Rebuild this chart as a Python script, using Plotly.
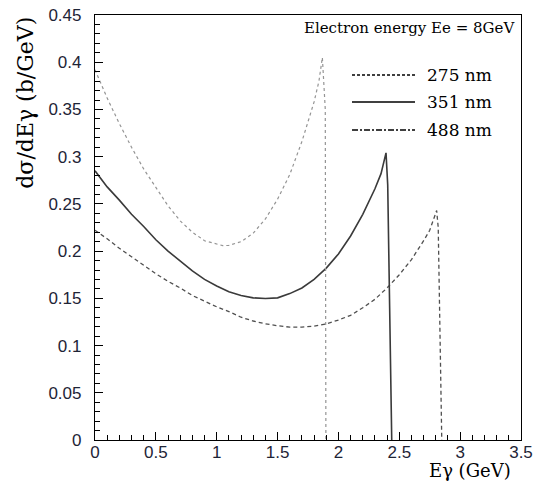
import plotly.graph_objects as go

# ---- data ----
wavelengths = ["275 nm", "351 nm", "488 nm"]

e_275 = [0.0, 0.1, 0.2, 0.3, 0.4, 0.5, 0.6, 0.7, 0.8, 0.9, 1.0, 1.1, 1.2, 1.3, 1.4, 1.5,
         1.6, 1.7, 1.8, 1.9, 2.0, 2.1, 2.2, 2.3, 2.4, 2.5, 2.6, 2.7, 2.75, 2.807, 2.82, 2.849]
s_275 = [0.222, 0.213, 0.203, 0.194, 0.185, 0.176, 0.168, 0.161, 0.153, 0.147, 0.141, 0.136,
         0.130, 0.126, 0.123, 0.121, 0.1195, 0.1195, 0.1205, 0.123, 0.127, 0.132, 0.140, 0.149,
         0.161, 0.175, 0.191, 0.211, 0.222, 0.243, 0.225, 0.0]

e_351 = [0.0, 0.1, 0.2, 0.3, 0.4, 0.5, 0.6, 0.7, 0.8, 0.9, 1.0, 1.1, 1.2, 1.3, 1.4, 1.5,
         1.6, 1.7, 1.8, 1.9, 2.0, 2.1, 2.2, 2.3, 2.35, 2.391, 2.405, 2.438]
s_351 = [0.285, 0.268, 0.254, 0.239, 0.226, 0.212, 0.200, 0.189, 0.179, 0.170, 0.163, 0.157,
         0.153, 0.1505, 0.1498, 0.1505, 0.155, 0.161, 0.170, 0.182, 0.197, 0.216, 0.239,
         0.266, 0.282, 0.304, 0.27, 0.0]

e_488 = [0.0, 0.1, 0.2, 0.3, 0.4, 0.5, 0.6, 0.7, 0.8, 0.9, 1.0, 1.05, 1.1, 1.2, 1.3, 1.4,
         1.5, 1.6, 1.7, 1.8, 1.84, 1.868, 1.892, 1.897]
s_488 = [0.392, 0.362, 0.335, 0.310, 0.287, 0.267, 0.248, 0.232, 0.220, 0.211, 0.207, 0.2058,
         0.206, 0.210, 0.219, 0.234, 0.255, 0.281, 0.316, 0.358, 0.380, 0.405, 0.35, 0.0]

x_ticks = [0, 0.5, 1, 1.5, 2, 2.5, 3, 3.5]
y_ticks = [0, 0.05, 0.1, 0.15, 0.2, 0.25, 0.3, 0.35, 0.4, 0.45]

SERIF = "DejaVu Serif"
SANS = "Liberation Sans, Arial"

fig = go.Figure()
fig.add_trace(go.Scatter(x=e_275, y=s_275, mode="lines", name=wavelengths[0],
                         line=dict(color="#505050", width=1.3, dash="4px,3px")))
fig.add_trace(go.Scatter(x=e_351, y=s_351, mode="lines", name=wavelengths[1],
                         line=dict(color="#3a3a3a", width=1.6)))
fig.add_trace(go.Scatter(x=e_488, y=s_488, mode="lines", name=wavelengths[2],
                         line=dict(color="#949494", width=1.2, dash="dot")))

axis_common = dict(
    showline=True, linecolor="black", linewidth=1.2, mirror=True,
    ticks="inside", ticklen=8, tickcolor="black", tickwidth=1,
    showgrid=False, zeroline=False, automargin=False,
    tickfont=dict(family=SANS, size=17, color="#1e2436"),
)
fig.update_xaxes(range=[0, 3.5], tickvals=x_ticks,
                 minor=dict(ticks="inside", dtick=0.1, ticklen=5, tickcolor="black"),
                 ticklabelstandoff=-4, **axis_common)
fig.update_yaxes(range=[0, 0.45], tickvals=y_ticks,
                 minor=dict(ticks="inside", dtick=0.01, ticklen=5, tickcolor="black"),
                 ticklabelstandoff=9, **axis_common)

# legend drawn inside the frame (line samples + labels)
leg_dash = ["3px,2px", "solid", "6px,2px,2px,2px"]
leg_y = [0.8588, 0.7953, 0.7294]
shapes = []
annotations = []
for name, d, yy in zip(wavelengths, leg_dash, leg_y):
    shapes.append(dict(type="line", xref="paper", yref="paper", x0=0.6033, x1=0.7512,
                       y0=yy, y1=yy, line=dict(color="black", width=1.6, dash=d)))
    annotations.append(dict(text=name, xref="paper", yref="paper", x=0.7745, y=yy,
                            xanchor="left", yanchor="middle", showarrow=False,
                            font=dict(family=SERIF, size=17, color="black")))

annotations.append(dict(text="Electron energy Ee = 8GeV", xref="paper", yref="paper",
                        x=0.99, y=0.9694, xanchor="right", yanchor="middle",
                        showarrow=False, font=dict(family=SERIF, size=15, color="black")))
annotations.append(dict(text="Eγ (GeV)", xref="paper", yref="paper",
                        x=0.981, y=-0.0706, xanchor="right", yanchor="middle",
                        showarrow=False, font=dict(family=SERIF, size=18, color="black")))
annotations.append(dict(text="dσ/dEγ (b/GeV)", xref="paper", yref="paper",
                        x=-0.165, y=1.0, xanchor="center", yanchor="top", textangle=-90,
                        showarrow=False, font=dict(family=SERIF, size=22, color="black")))

fig.update_layout(
    width=534, height=485,
    margin=dict(l=95, r=13, t=15, b=45, autoexpand=False),
    paper_bgcolor="white", plot_bgcolor="white",
    showlegend=False,
    shapes=shapes, annotations=annotations,
)

fig.write_html("out.html", config={"displayModeBar": False},
               post_script="document.body.style.margin='0';document.body.style.padding='0';")
